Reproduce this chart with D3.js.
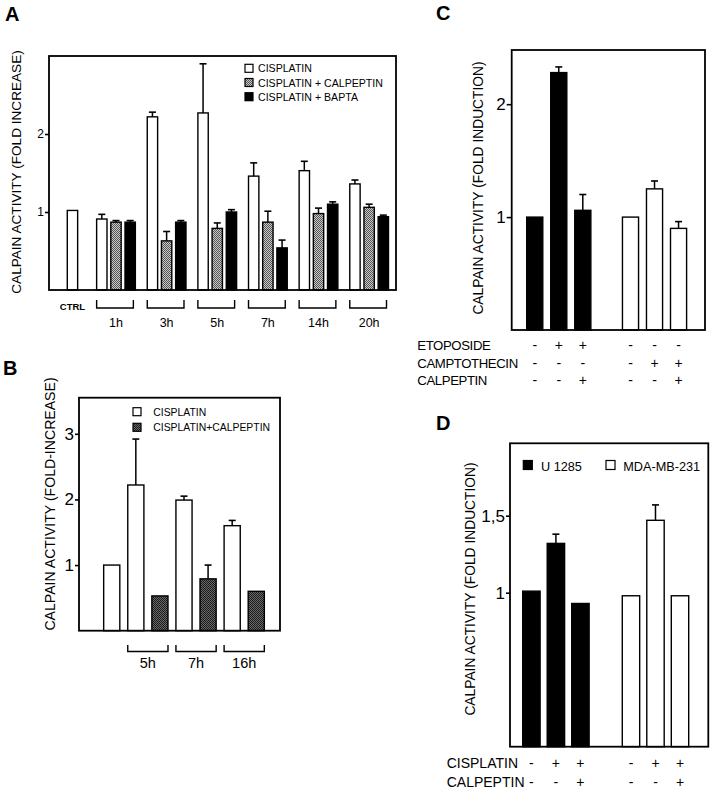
<!DOCTYPE html>
<html>
<head>
<meta charset="utf-8">
<script src="https://cdn.jsdelivr.net/npm/d3@7"></script>
<style>
body { margin: 0; background: #fff; }
svg { display: block; font-family: "Liberation Sans", Arial, sans-serif; }
</style>
</head>
<body>
<script>
// panel A - time course
var groupsA = ["1h", "3h", "5h", "7h", "14h", "20h"];
var seriesA = ["CISPLATIN", "CISPLATIN + CALPEPTIN", "CISPLATIN + BAPTA"];
var ctrlA = 1.02;
var cisplatinA = [0.91, 2.22, 2.27, 1.46, 1.53, 1.36];
var cisplatinErrA = [0.06, 0.06, 0.63, 0.17, 0.12, 0.05];
var calpeptinA = [0.87, 0.63, 0.79, 0.87, 0.98, 1.06];
var calpeptinErrA = [0.02, 0.12, 0.07, 0.14, 0.07, 0.04];
var baptaA = [0.87, 0.87, 1.0, 0.54, 1.1, 0.94];
var baptaErrA = [0.02, 0.02, 0.03, 0.1, 0.03, 0.02];
var ticksA = [1, 2];

// panel B
var timesB = ["5h", "7h", "16h"];
var seriesB = ["CISPLATIN", "CISPLATIN+CALPEPTIN"];
var ctrlB = 1.0;
var cisplatinB = [2.22, 1.99, 1.6];
var cisplatinErrB = [0.7, 0.06, 0.08];
var calpeptinB = [0.53, 0.79, 0.6];
var calpeptinErrB = [0, 0.21, 0];
var ticksB = [1, 2, 3];

// panel C
var drugsC = ["ETOPOSIDE", "CAMPTOTHECIN"];
var condsC = ["ctrl", "drug", "drug+calpeptin"];
var etoposideC = [1.0, 2.28, 1.06];
var etoposideErrC = [0, 0.05, 0.14];
var camptothecinC = [1.0, 1.25, 0.9];
var camptothecinErrC = [0, 0.07, 0.06];
var rowsC = ["ETOPOSIDE", "CAMPTOTHECIN", "CALPEPTIN"];
var signsC = [["-", "+", "+", "-", "-", "-"],
              ["-", "-", "-", "-", "+", "+"],
              ["-", "-", "+", "-", "-", "+"]];
var ticksC = [1, 2];

// panel D
var cellsD = ["U 1285", "MDA-MB-231"];
var condsD = ["ctrl", "cisplatin", "cisplatin+calpeptin"];
var u1285D = [1.01, 1.32, 0.93];
var u1285ErrD = [0, 0.06, 0];
var mdaD = [0.98, 1.47, 0.98];
var mdaErrD = [0, 0.1, 0];
var rowsD = ["CISPLATIN", "CALPEPTIN"];
var signsD = [["-", "+", "+", "-", "+", "+"],
              ["-", "-", "+", "-", "-", "+"]];
var ticksD = [1, 1.5];

var svg = d3.select("body").append("svg")
    .attr("width", 722)
    .attr("height", 789);

var defs = svg.append("defs");
function checker(id, light, dark) {
    var p = defs.append("pattern").attr("id", id)
        .attr("width", 2).attr("height", 2)
        .attr("patternUnits", "userSpaceOnUse");
    p.append("rect").attr("width", 2).attr("height", 2).attr("fill", light);
    p.append("rect").attr("width", 1).attr("height", 1).attr("fill", dark);
    p.append("rect").attr("x", 1).attr("y", 1).attr("width", 1).attr("height", 1).attr("fill", dark);
}
checker("dotLight", "#c8c8c8", "#555");
checker("dotDark", "#6a6a6a", "#1a1a1a");

function frame(x, y) {
    svg.append("rect")
        .attr("x", x.range()[0]).attr("y", y.range()[1])
        .attr("width", x.range()[1] - x.range()[0])
        .attr("height", y.range()[0] - y.range()[1])
        .attr("fill", "none").attr("stroke", "#000").attr("stroke-width", 1.8);
}

function yAxis(y, left, values, fmt, size, tick) {
    var g = svg.append("g")
        .attr("transform", "translate(" + left + ",0)")
        .call(d3.axisLeft(y).tickValues(values).tickFormat(fmt)
            .tickSize(tick).tickSizeOuter(0).tickPadding(1));
    g.select(".domain").remove();
    g.selectAll("line").attr("stroke", "#000").attr("stroke-width", 1.6);
    g.selectAll("text").attr("fill", "#000")
        .style("font-size", size + "px")
        .style("font-family", "'Liberation Sans', Arial, sans-serif");
}

function yLabel(text, x, y, size) {
    svg.append("text")
        .attr("transform", "translate(" + x + "," + y + ") rotate(-90)")
        .attr("text-anchor", "middle")
        .attr("dominant-baseline", "central")
        .style("font-size", size + "px")
        .text(text);
}

function panelLetter(t, x, y) {
    svg.append("text").attr("x", x).attr("y", y)
        .style("font-size", "20px").style("font-weight", "bold")
        .text(t);
}

function drawBars(data, y, w, cls) {
    svg.selectAll("rect." + cls).data(data).enter().append("rect")
        .attr("class", cls)
        .attr("x", function(d) { return d.x; })
        .attr("y", function(d) { return y(d.v); })
        .attr("width", w)
        .attr("height", function(d) { return y(0) - y(d.v); })
        .attr("fill", function(d) { return d.fill; })
        .attr("stroke", "#000")
        .attr("stroke-width", 1.4);
    var eb = data.filter(function(d) { return d.e > 0; });
    svg.selectAll("line." + cls + "e").data(eb).enter().append("line")
        .attr("class", cls + "e")
        .attr("x1", function(d) { return d.x + w / 2; })
        .attr("x2", function(d) { return d.x + w / 2; })
        .attr("y1", function(d) { return y(d.v); })
        .attr("y2", function(d) { return y(d.v + d.e); })
        .attr("stroke", "#000").attr("stroke-width", 1.5);
    svg.selectAll("line." + cls + "c").data(eb).enter().append("line")
        .attr("class", cls + "c")
        .attr("x1", function(d) { return d.x + w / 2 - 3.5; })
        .attr("x2", function(d) { return d.x + w / 2 + 3.5; })
        .attr("y1", function(d) { return y(d.v + d.e); })
        .attr("y2", function(d) { return y(d.v + d.e); })
        .attr("stroke", "#000").attr("stroke-width", 1.6);
}

function bracket(x1, x2, y1, y2) {
    svg.append("path")
        .attr("d", "M" + x1 + "," + y1 + "V" + y2 + "H" + x2 + "V" + y1)
        .attr("fill", "none").attr("stroke", "#000").attr("stroke-width", 1.4);
}

// ---------- A ----------
var xA = d3.scaleBand().domain(["CTRL"].concat(groupsA)).range([46, 388.5]).paddingInner(0.235);
var xiA = d3.scaleBand().domain(seriesA).range([0, xA.bandwidth()]).paddingInner(0.27);
var yA = d3.scaleLinear().domain([0, 3]).range([290, 56]);
var boxA = d3.scaleLinear().range([49, 396]);
var fillsA = ["#fff", "url(#dotLight)", "#000"];
var valsA = [cisplatinA, calpeptinA, baptaA];
var errsA = [cisplatinErrA, calpeptinErrA, baptaErrA];

var barsA = [{x: xA("CTRL") + xiA(seriesA[1]) + xiA.step() / 2, v: ctrlA, e: 0, fill: "#fff"}];
groupsA.forEach(function(g, gi) {
    seriesA.forEach(function(s, si) {
        barsA.push({x: xA(g) + xiA(s), v: valsA[si][gi], e: errsA[si][gi], fill: fillsA[si]});
    });
});
drawBars(barsA, yA, xiA.bandwidth(), "barA");
frame(boxA, yA);
yAxis(yA, 49, ticksA, d3.format("d"), 12, 4);
yLabel("CALPAIN ACTIVITY (FOLD INCREASE)", 16, 172, 13.6);
panelLetter("A", 5, 21);

svg.append("text").attr("x", xA("CTRL") + xiA(seriesA[1]) + xiA.step() / 2 + xiA.bandwidth() / 2)
    .attr("y", 310).attr("text-anchor", "middle")
    .style("font-size", "9.5px").style("font-weight", "bold").text("CTRL");
groupsA.forEach(function(g) {
    bracket(xA(g), xA(g) + xA.bandwidth() - 2, 300, 308);
    svg.append("text").attr("x", xA(g) + xA.bandwidth() / 2).attr("y", 327)
        .attr("text-anchor", "middle").style("font-size", "12.5px").text(g);
});

seriesA.forEach(function(s, i) {
    var cy = 68.3 + i * 14.2;
    svg.append("rect").attr("x", 245).attr("y", cy - 4).attr("width", 8).attr("height", 8)
        .attr("fill", fillsA[i]).attr("stroke", "#000").attr("stroke-width", 1.2);
    svg.append("text").attr("x", 258).attr("y", cy + 4)
        .style("font-size", "10.6px").text(s);
});

// ---------- B ----------
var keysB = ["CTRL"];
var barsBData = [{v: ctrlB, e: 0, fill: "#fff"}];
timesB.forEach(function(t, i) {
    keysB.push(t + "|" + seriesB[0], t + "|" + seriesB[1]);
    barsBData.push({v: cisplatinB[i], e: cisplatinErrB[i], fill: "#fff"});
    barsBData.push({v: calpeptinB[i], e: calpeptinErrB[i], fill: "url(#dotDark)"});
});
var xB = d3.scaleBand().domain(keysB).range([99.7, 268.3]).paddingInner(0.33).paddingOuter(0.165);
var yB = d3.scaleLinear().domain([0, 3.55]).range([630.7, 397.7]);
var boxB = d3.scaleLinear().range([79, 280]);
barsBData.forEach(function(d, i) { d.x = xB(keysB[i]); });
drawBars(barsBData, yB, xB.bandwidth(), "barB");
frame(boxB, yB);
yAxis(yB, 79, ticksB, d3.format("d"), 17, 4);
yLabel("CALPAIN ACTIVITY (FOLD-INCREASE)", 50, 504, 14.1);
panelLetter("B", 3, 375);

timesB.forEach(function(t) {
    var a = xB(t + "|" + seriesB[0]), b = xB(t + "|" + seriesB[1]) + xB.bandwidth();
    bracket(a, b, 645, 651.5);
    svg.append("text").attr("x", (a + b) / 2).attr("y", 668)
        .attr("text-anchor", "middle").style("font-size", "14.5px").text(t);
});
seriesB.forEach(function(s, i) {
    var cy = 411.7 + i * 15.6;
    svg.append("rect").attr("x", 133).attr("y", cy - 4).attr("width", 8).attr("height", 8)
        .attr("fill", i === 0 ? "#fff" : "url(#dotDark)").attr("stroke", "#000").attr("stroke-width", 1.2);
    svg.append("text").attr("x", 153.3).attr("y", cy + 4)
        .style("font-size", "10.4px").text(s);
});

// ---------- C ----------
var xC = d3.scaleBand().domain(drugsC).range([526.7, 686.6]).paddingInner(0.33);
var xiC = d3.scaleBand().domain(condsC).range([0, xC.bandwidth()]).paddingInner(0.33);
var yC = d3.scaleLinear().domain([0, 2.48]).range([330, 50]);
var boxC = d3.scaleLinear().range([511.7, 705]);
var valsC = [etoposideC, camptothecinC], errsC = [etoposideErrC, camptothecinErrC];
var fillsC = ["#000", "#fff"];
var barsC = [], centersC = [];
drugsC.forEach(function(g, gi) {
    condsC.forEach(function(c, ci) {
        barsC.push({x: xC(g) + xiC(c), v: valsC[gi][ci], e: errsC[gi][ci], fill: fillsC[gi]});
        centersC.push(xC(g) + xiC(c) + xiC.bandwidth() / 2);
    });
});
drawBars(barsC, yC, xiC.bandwidth(), "barC");
frame(boxC, yC);
yAxis(yC, 511.7, ticksC, d3.format("d"), 17, 5);
yLabel("CALPAIN ACTIVITY (FOLD INDUCTION)", 478.3, 188, 13.8);
panelLetter("C", 436, 20);

rowsC.forEach(function(r, ri) {
    var yy = 345 + ri * 17.5 + 5;
    svg.append("text").attr("x", 417.3).attr("y", yy)
        .style("font-size", "13.2px").style("letter-spacing", "-0.4px").text(r);
    signsC[ri].forEach(function(s, i) {
        svg.append("text").attr("x", centersC[i]).attr("y", yy)
            .attr("text-anchor", "middle").style("font-size", "14px").text(s);
    });
});

// ---------- D ----------
var xD = d3.scaleBand().domain(cellsD).range([522.7, 688.7]).paddingInner(0.333);
var xiD = d3.scaleBand().domain(condsD).range([0, xD.bandwidth()]).paddingInner(0.29);
var yD = d3.scaleLinear().domain([0, 1.97]).range([746.7, 443.3]);
var boxD = d3.scaleLinear().range([510, 708.3]);
var valsD = [u1285D, mdaD], errsD = [u1285ErrD, mdaErrD];
var fillsD = ["#000", "#fff"];
var barsD = [], centersD = [];
cellsD.forEach(function(g, gi) {
    condsD.forEach(function(c, ci) {
        barsD.push({x: xD(g) + xiD(c), v: valsD[gi][ci], e: errsD[gi][ci], fill: fillsD[gi]});
        centersD.push(xD(g) + xiD(c) + xiD.bandwidth() / 2);
    });
});
drawBars(barsD, yD, xiD.bandwidth(), "barD");
frame(boxD, yD);
yAxis(yD, 510, ticksD, function(d) { return String(d).replace(".", ","); }, 17, 4);
yLabel("CALPAIN ACTIVITY (FOLD INDUCTION)", 470, 589, 13.8);
panelLetter("D", 436, 430);

var legX = [523.3, 606], legT = [541, 623.3];
cellsD.forEach(function(c, i) {
    svg.append("rect").attr("x", legX[i]).attr("y", 460.5).attr("width", 9).attr("height", 9)
        .attr("fill", fillsD[i]).attr("stroke", "#000").attr("stroke-width", 1.2);
    svg.append("text").attr("x", legT[i]).attr("y", 471)
        .style("font-size", "12.7px").text(c);
});

rowsD.forEach(function(r, ri) {
    var yy = 762.7 + ri * 19 + 5;
    svg.append("text").attr("x", 446.7).attr("y", yy)
        .style("font-size", "14px").text(r);
    signsD[ri].forEach(function(s, i) {
        svg.append("text").attr("x", centersD[i]).attr("y", yy)
            .attr("text-anchor", "middle").style("font-size", "14px").text(s);
    });
});
</script>
</body>
</html>
